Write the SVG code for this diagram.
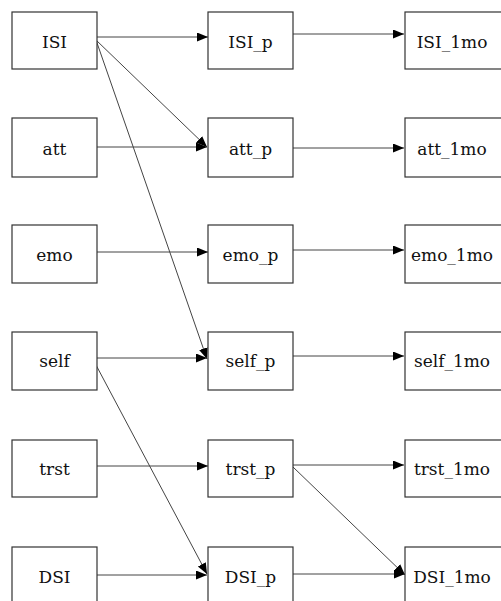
<svg xmlns="http://www.w3.org/2000/svg" width="501" height="601" viewBox="0 0 501 601">
<style>
.box{fill:#fff;stroke:#333;stroke-width:1.2}
.lbl{font-family:'DejaVu Serif',serif;font-size:17px;fill:#111;text-anchor:middle}
.edge{stroke:#444;stroke-width:1;fill:none;marker-end:url(#ah)}
</style>
<defs>
<marker id="ah" markerUnits="userSpaceOnUse" markerWidth="12" markerHeight="10" refX="11" refY="4.5" orient="auto">
<path d="M0,0 L11,4.5 L0,9 z" fill="#000"/>
</marker>
</defs>
<rect width="501" height="601" fill="#fff"/>
<g id="edges">
<line class="edge" x1="96" y1="37" x2="208" y2="37"/>
<line class="edge" x1="96" y1="40" x2="207" y2="147"/>
<line class="edge" x1="96" y1="40" x2="207" y2="359"/>
<line class="edge" x1="91" y1="147" x2="207" y2="147"/>
<line class="edge" x1="96" y1="252" x2="208" y2="252"/>
<line class="edge" x1="96" y1="358" x2="207" y2="358"/>
<line class="edge" x1="96" y1="365" x2="207" y2="574"/>
<line class="edge" x1="96" y1="466" x2="208" y2="466"/>
<line class="edge" x1="91" y1="575" x2="207" y2="575"/>
<line class="edge" x1="288" y1="34" x2="404" y2="34"/>
<line class="edge" x1="293" y1="148" x2="404" y2="148"/>
<line class="edge" x1="293" y1="250" x2="404" y2="250"/>
<line class="edge" x1="288" y1="356" x2="404" y2="356"/>
<line class="edge" x1="293" y1="465" x2="404" y2="465"/>
<line class="edge" x1="293" y1="467" x2="405" y2="575"/>
<line class="edge" x1="293" y1="574" x2="405" y2="574"/>
</g>
<g id="ISI"><rect class="box" x="12" y="12" width="85" height="57"/><text class="lbl" x="54.5" y="48">ISI</text></g>
<g id="att"><rect class="box" x="12" y="118" width="85" height="59"/><text class="lbl" x="54.5" y="155">att</text></g>
<g id="emo"><rect class="box" x="12" y="225" width="85" height="58"/><text class="lbl" x="54.5" y="261">emo</text></g>
<g id="self"><rect class="box" x="12" y="332" width="85" height="58"/><text class="lbl" x="54.5" y="367">self</text></g>
<g id="trst"><rect class="box" x="12" y="440" width="85" height="57"/><text class="lbl" x="54.5" y="475">trst</text></g>
<g id="DSI"><rect class="box" x="12" y="547" width="85" height="58"/><text class="lbl" x="54.5" y="583">DSI</text></g>
<g id="ISI_p"><rect class="box" x="208" y="12" width="85" height="57"/><text class="lbl" x="250.5" y="48">ISI_p</text></g>
<g id="att_p"><rect class="box" x="208" y="118" width="85" height="59"/><text class="lbl" x="250.5" y="155">att_p</text></g>
<g id="emo_p"><rect class="box" x="208" y="225" width="85" height="58"/><text class="lbl" x="250.5" y="261">emo_p</text></g>
<g id="self_p"><rect class="box" x="208" y="332" width="85" height="58"/><text class="lbl" x="250.5" y="367">self_p</text></g>
<g id="trst_p"><rect class="box" x="208" y="440" width="85" height="57"/><text class="lbl" x="250.5" y="475">trst_p</text></g>
<g id="DSI_p"><rect class="box" x="208" y="547" width="85" height="58"/><text class="lbl" x="250.5" y="583">DSI_p</text></g>
<g id="ISI_1mo"><rect class="box" x="405" y="12" width="98" height="57"/><text class="lbl" x="452" y="48">ISI_1mo</text></g>
<g id="att_1mo"><rect class="box" x="405" y="118" width="98" height="59"/><text class="lbl" x="452" y="155">att_1mo</text></g>
<g id="emo_1mo"><rect class="box" x="405" y="225" width="98" height="58"/><text class="lbl" x="452" y="261">emo_1mo</text></g>
<g id="self_1mo"><rect class="box" x="405" y="332" width="98" height="58"/><text class="lbl" x="452" y="367">self_1mo</text></g>
<g id="trst_1mo"><rect class="box" x="405" y="440" width="98" height="57"/><text class="lbl" x="452" y="475">trst_1mo</text></g>
<g id="DSI_1mo"><rect class="box" x="405" y="547" width="98" height="58"/><text class="lbl" x="452" y="583">DSI_1mo</text></g>
</svg>
